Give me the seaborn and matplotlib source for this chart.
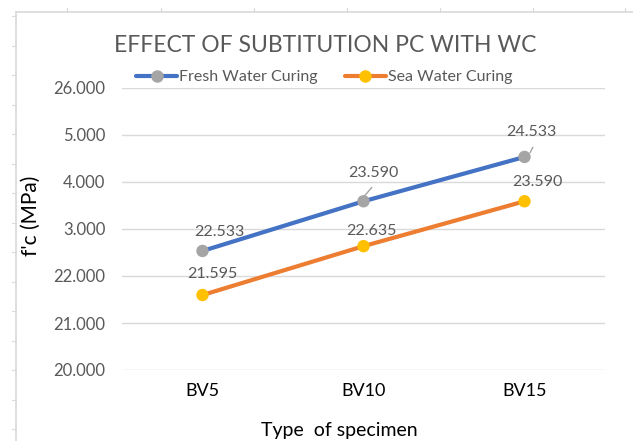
import matplotlib
matplotlib.use("Agg")
import matplotlib.pyplot as plt
from matplotlib.lines import Line2D
import numpy as np
import pandas as pd
import seaborn as sns

specimens = ["BV5", "BV10", "BV15"]
fresh_water = [22.533, 23.590, 24.533]
sea_water = [21.595, 22.635, 23.590]
series_names = ["Fresh Water Curing", "Sea Water Curing"]
y_ticks = [20, 21, 22, 23, 24, 25, 26]
y_tick_labels = ["20.000", "21.000", "22.000", "3.000", "4.000", "5.000", "26.000"]

df = pd.DataFrame({
    "specimen": specimens * 2,
    "fc": fresh_water + sea_water,
    "series": [series_names[0]] * 3 + [series_names[1]] * 3,
})
df["pos"] = df["specimen"].map({s: i for i, s in enumerate(specimens)})

sns.set_style("white")
plt.rcParams["font.family"] = ["Lato", "DejaVu Sans"]

line_colors = {series_names[0]: "#4472C4", series_names[1]: "#ED7D31"}
marker_colors = {series_names[0]: "#A5A5A5", series_names[1]: "#FFC000"}
text_gray = "#595959"

fig = plt.figure(figsize=(6.33, 4.41), dpi=100)
ax = fig.add_axes([122 / 633, 1 - 370 / 441, 483 / 633, 282 / 441])

sns.lineplot(data=df, x="pos", y="fc", hue="series", palette=line_colors,
             linewidth=3, legend=False, ax=ax, zorder=3)
sns.scatterplot(data=df, x="pos", y="fc", hue="series", palette=marker_colors,
                s=80, edgecolor="none", legend=False, ax=ax, zorder=4)

ax.set_xlim(-0.5, 2.5)
ax.set_ylim(20, 26)
ax.set_xticks(range(len(specimens)))
ax.set_xticklabels(specimens, fontsize=13, color="black")
ax.set_yticks(y_ticks)
ax.set_yticklabels(y_tick_labels, fontsize=12, color=text_gray)
ax.tick_params(axis="y", length=0, pad=12)
ax.tick_params(axis="x", length=0, pad=9)
ax.yaxis.grid(True, color="#D9D9D9", linewidth=1)
ax.xaxis.grid(False)
for sp in ax.spines.values():
    sp.set_visible(False)

ax.set_xlabel("Type  of specimen", fontsize=14, color="black")
ax.xaxis.set_label_coords((339 - 122) / 483, -(422 - 370) / 282)
ax.set_ylabel("f'c (MPa)", fontsize=15, color="black")
ax.yaxis.set_label_coords(-(122 - 41) / 483, (370 - 216) / 282)

# data labels (offsets in points)
fresh_off = [(12, 14), (7, 20), (5, 18)]
sea_off = [(7, 15), (6, 11), (9, 14)]
for i, v in enumerate(fresh_water):
    ax.annotate(f"{v:.3f}", (i, v), xytext=fresh_off[i], textcoords="offset points",
                ha="center", va="center", fontsize=11.5, color=text_gray, zorder=5)
for i, v in enumerate(sea_water):
    ax.annotate(f"{v:.3f}", (i, v), xytext=sea_off[i], textcoords="offset points",
                ha="center", va="center", fontsize=11.5, color=text_gray, zorder=5)
# leader lines
for i, (a, b) in [(1, ((0, 3), (6, 10))), (2, ((4, 3), (6, 7)))]:
    p0 = ax.transData.transform((i, fresh_water[i]))
    ax.add_line(Line2D([p0[0] + a[0] * 100 / 72, p0[0] + b[0] * 100 / 72],
                       [p0[1] + a[1] * 100 / 72, p0[1] + b[1] * 100 / 72],
                       transform=None, color="#A5A5A5", linewidth=1, zorder=5))

fig.text(325 / 633, 1 - 45 / 441, "EFFECT OF SUBTITUTION PC WITH WC",
         ha="center", va="center", fontsize=16.5, color=text_gray)

handles = [Line2D([], [], color=line_colors[n], linewidth=3, marker="o", markersize=9,
                  markerfacecolor=marker_colors[n], markeredgecolor="none")
           for n in series_names]
fig.legend(handles, series_names, loc="center", bbox_to_anchor=(324 / 633, 1 - 77 / 441),
           ncol=2, frameon=False, fontsize=11.5, handlelength=2.6, handletextpad=0.1,
           columnspacing=1.7, labelcolor=text_gray, borderpad=0, borderaxespad=0)

# chart border and spreadsheet cell ticks around it
fig.add_artist(Line2D([16 / 633, 16 / 633], [0, 1 - 12 / 441], color="#D9D9D9", linewidth=1.2))
fig.add_artist(Line2D([16 / 633, 1], [1 - 12 / 441, 1 - 12 / 441], color="#D9D9D9", linewidth=1.2))
for xp in [67, 161, 254, 347, 440, 533, 625]:
    fig.add_artist(Line2D([xp / 633, xp / 633], [1 - 8 / 441, 1 - 12 / 441], color="#D9D9D9", linewidth=0.8))
for yp in np.arange(16, 441, 29.5):
    fig.add_artist(Line2D([12 / 633, 16 / 633], [1 - yp / 441, 1 - yp / 441], color="#D9D9D9", linewidth=0.8))

fig.savefig("out.png", dpi=100)
